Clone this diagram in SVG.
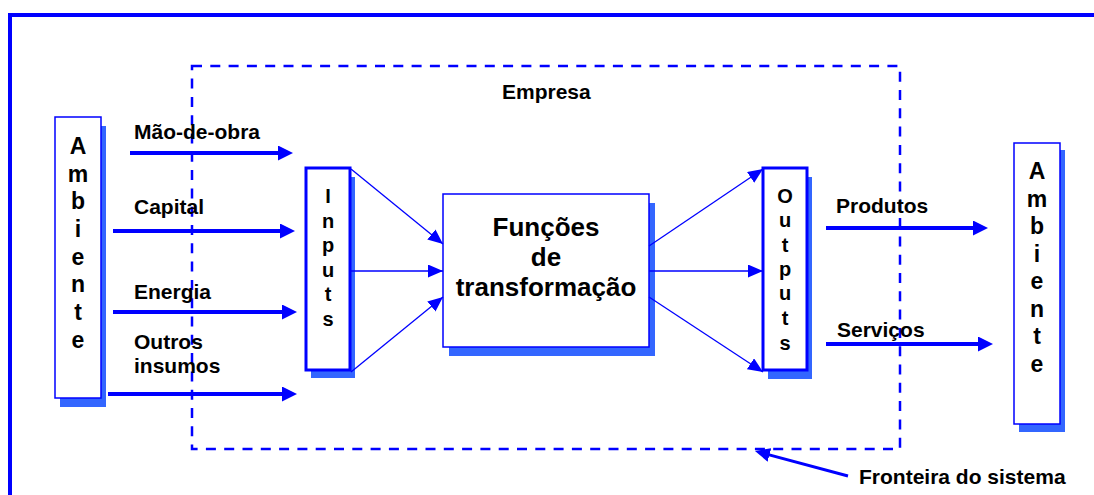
<svg xmlns="http://www.w3.org/2000/svg" width="1094" height="495" viewBox="0 0 1094 495">
  <style>
    text { font-family: "Liberation Sans", Arial, sans-serif; font-weight: bold; fill: #000; }
    .lbl { font-size: 21px; }
    .vert { font-size: 23px; text-anchor: middle; }
    .vsm { font-size: 20px; text-anchor: middle; }
    .big { font-size: 26px; text-anchor: middle; }
    .shadow { fill: #3366ff; stroke: none; }
    .box { fill: #fff; stroke: #0000ff; stroke-width: 1.5; }
    .boxb { fill: #fff; stroke: #0000ff; stroke-width: 3; }
    .thick { stroke: #0000ff; stroke-width: 4; fill: none; marker-end: url(#headBig); }
    .thin { stroke: #0000ff; stroke-width: 1.3; fill: none; marker-end: url(#headSmall); }
  </style>
  <defs>
    <marker id="headBig" markerUnits="userSpaceOnUse" markerWidth="16" markerHeight="16" refX="7" refY="7.5" orient="auto">
      <path d="M0,0 L15,7.5 L0,15 z" fill="#0000ff"/>
    </marker>
    <marker id="headSmall" markerUnits="userSpaceOnUse" markerWidth="16" markerHeight="14" refX="15" refY="6.5" orient="auto">
      <path d="M0,0 L15,6.5 L0,13 z" fill="#0000ff"/>
    </marker>
    <marker id="headMid" markerUnits="userSpaceOnUse" markerWidth="16" markerHeight="14" refX="7" refY="7" orient="auto">
      <path d="M0,0 L15,7 L0,14 z" fill="#0000ff"/>
    </marker>
  </defs>

  <rect width="1094" height="495" fill="#fff"/>

  <!-- outer frame -->
  <path d="M10,495 V15 H1094" fill="none" stroke="#0000ff" stroke-width="4"/>

  <!-- company boundary -->
  <g id="empresa">
    <rect x="192" y="66" width="708" height="383" fill="none" stroke="#0000ff" stroke-width="2.5" stroke-dasharray="10 8.3"/>
    <text class="lbl" x="502" y="99">Empresa</text>
  </g>

  <!-- environment (left) -->
  <g id="ambiente-esq">
    <rect class="shadow" x="60" y="126" width="46" height="281"/>
    <rect class="box" x="55" y="117" width="46" height="281"/>
    <text class="vert" x="78" y="154">A</text>
    <text class="vert" x="78" y="182">m</text>
    <text class="vert" x="78" y="209">b</text>
    <text class="vert" x="78" y="237">i</text>
    <text class="vert" x="78" y="265">e</text>
    <text class="vert" x="78" y="292">n</text>
    <text class="vert" x="78" y="320">t</text>
    <text class="vert" x="78" y="348">e</text>
  </g>

  <!-- inputs -->
  <g id="inputs">
    <rect class="shadow" x="311" y="177" width="44" height="201"/>
    <rect class="boxb" x="306" y="168" width="44" height="202"/>
    <text class="vsm" x="328" y="203">I</text>
    <text class="vsm" x="328" y="228">n</text>
    <text class="vsm" x="328" y="252">p</text>
    <text class="vsm" x="328" y="277">u</text>
    <text class="vsm" x="328" y="301">t</text>
    <text class="vsm" x="328" y="326">s</text>
  </g>

  <!-- transformation -->
  <g id="transformacao">
    <rect class="shadow" x="449" y="203" width="206" height="153"/>
    <rect class="box" x="443" y="194" width="206" height="153"/>
    <text class="big" x="546" y="236">Funções</text>
    <text class="big" x="546" y="266">de</text>
    <text class="big" x="546" y="296">transformação</text>
  </g>

  <!-- outputs -->
  <g id="outputs">
    <rect class="shadow" x="768" y="177" width="44" height="202"/>
    <rect class="boxb" x="763" y="168" width="44" height="202"/>
    <text class="vsm" x="785" y="203">O</text>
    <text class="vsm" x="785" y="227">u</text>
    <text class="vsm" x="785" y="252">t</text>
    <text class="vsm" x="785" y="276">p</text>
    <text class="vsm" x="785" y="300">u</text>
    <text class="vsm" x="785" y="325">t</text>
    <text class="vsm" x="785" y="350">s</text>
  </g>

  <!-- environment (right) -->
  <g id="ambiente-dir">
    <rect class="shadow" x="1019" y="150" width="46" height="282"/>
    <rect class="box" x="1014" y="143" width="46" height="281"/>
    <text class="vert" x="1037" y="179">A</text>
    <text class="vert" x="1037" y="207">m</text>
    <text class="vert" x="1037" y="234">b</text>
    <text class="vert" x="1037" y="262">i</text>
    <text class="vert" x="1037" y="289">e</text>
    <text class="vert" x="1037" y="317">n</text>
    <text class="vert" x="1037" y="344">t</text>
    <text class="vert" x="1037" y="372">e</text>
  </g>

  <!-- flows -->
  <g id="conectores">
    <line class="thick" x1="130" y1="153" x2="285" y2="153"/>
    <line class="thick" x1="113" y1="231" x2="287" y2="231"/>
    <line class="thick" x1="113" y1="312" x2="289" y2="312"/>
    <line class="thick" x1="108" y1="394" x2="289" y2="394"/>

    <line class="thin" x1="351" y1="169" x2="443" y2="244"/>
    <line class="thin" x1="351" y1="271" x2="443" y2="271"/>
    <line class="thin" x1="351" y1="372" x2="443" y2="297"/>

    <line class="thin" x1="649" y1="246" x2="763" y2="169"/>
    <line class="thin" x1="649" y1="271" x2="763" y2="271"/>
    <line class="thin" x1="649" y1="297" x2="763" y2="372"/>

    <line class="thick" x1="826" y1="228" x2="980" y2="228"/>
    <line class="thick" x1="826" y1="344" x2="985" y2="344"/>

    <line x1="848" y1="476" x2="762.7" y2="453.1" stroke="#0000ff" stroke-width="3" marker-end="url(#headMid)"/>
  </g>

  <!-- labels -->
  <g id="rotulos">
    <text class="lbl" x="134" y="139">Mão-de-obra</text>
    <text class="lbl" x="134" y="214">Capital</text>
    <text class="lbl" x="134" y="299">Energia</text>
    <text class="lbl" x="134" y="349">Outros</text>
    <text class="lbl" x="134" y="373">insumos</text>
    <text class="lbl" x="836" y="213">Produtos</text>
    <text class="lbl" x="837" y="337">Serviços</text>
    <text class="lbl" x="859" y="484">Fronteira do sistema</text>
  </g>
</svg>
